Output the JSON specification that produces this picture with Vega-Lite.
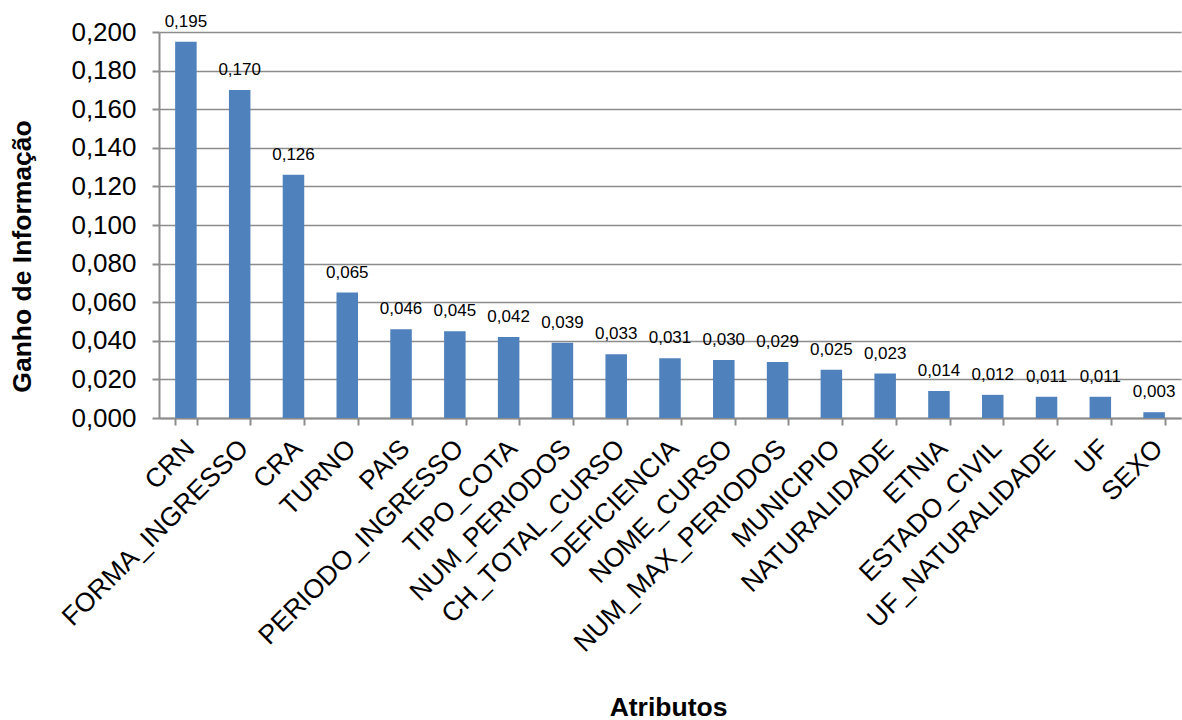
{
  "$schema": "https://vega.github.io/schema/vega-lite/v6.json",
  "width": 1022,
  "height": 386,
  "autosize": {"type": "none"},
  "padding": {"left": 159, "top": 32, "right": 1, "bottom": 302},
  "background": "white",
  "config": {
    "view": {"stroke": null},
    "font": "Liberation Sans",
    "locale": {"number": {"decimal": ",", "thousands": ".", "grouping": [3], "currency": ["R$", ""]}}
  },
  "data": {
    "values": [
      {"atributo": "CRN", "ganho": 0.195},
      {"atributo": "FORMA_INGRESSO", "ganho": 0.170},
      {"atributo": "CRA", "ganho": 0.126},
      {"atributo": "TURNO", "ganho": 0.065},
      {"atributo": "PAIS", "ganho": 0.046},
      {"atributo": "PERIODO_INGRESSO", "ganho": 0.045},
      {"atributo": "TIPO_COTA", "ganho": 0.042},
      {"atributo": "NUM_PERIODOS", "ganho": 0.039},
      {"atributo": "CH_TOTAL_CURSO", "ganho": 0.033},
      {"atributo": "DEFICIENCIA", "ganho": 0.031},
      {"atributo": "NOME_CURSO", "ganho": 0.030},
      {"atributo": "NUM_MAX_PERIODOS", "ganho": 0.029},
      {"atributo": "MUNICIPIO", "ganho": 0.025},
      {"atributo": "NATURALIDADE", "ganho": 0.023},
      {"atributo": "ETNIA", "ganho": 0.014},
      {"atributo": "ESTADO_CIVIL", "ganho": 0.012},
      {"atributo": "UF_NATURALIDADE", "ganho": 0.011},
      {"atributo": "UF", "ganho": 0.011},
      {"atributo": "SEXO", "ganho": 0.003}
    ]
  },
  "encoding": {
    "x": {
      "field": "atributo",
      "type": "nominal",
      "sort": null,
      "scale": {"paddingInner": 0.6, "paddingOuter": 0.3},
      "axis": {
        "title": "Atributos",
        "titleFont": "Liberation Sans",
        "titleFontSize": 26.5,
        "titleFontWeight": "bold",
        "titleColor": "black",
        "titleX": 509,
        "titleY": 289,
        "titleBaseline": "middle",
        "titleAlign": "center",
        "labelAngle": -45,
        "labelAlign": "right",
        "labelBaseline": "middle",
        "labelOffset": 4,
        "labelPadding": 19,
        "labelFontSize": 26.5,
        "labelColor": "black",
        "labelFont": "Liberation Sans",
        "labelOverlap": false,
        "labelLimit": 0,
        "tickBand": "extent",
        "tickSize": 7,
        "tickColor": "#8c8c8c",
        "tickWidth": 2,
        "domainColor": "#8c8c8c",
        "domainWidth": 2,
        "grid": false
      }
    },
    "y": {
      "field": "ganho",
      "type": "quantitative",
      "scale": {"domain": [0, 0.2], "nice": false},
      "axis": {
        "title": "Ganho de Informação",
        "titleFont": "Liberation Sans",
        "titleFontSize": 26.5,
        "titleFontWeight": "bold",
        "titleColor": "black",
        "titleX": -137,
        "titleY": 224,
        "titleAngle": -90,
        "titleAlign": "center",
        "titleBaseline": "middle",
        "values": [0, 0.02, 0.04, 0.06, 0.08, 0.1, 0.12, 0.14, 0.16, 0.18, 0.2],
        "format": ".3f",
        "labelFontSize": 26,
        "labelColor": "black",
        "labelFont": "Liberation Sans",
        "labelPadding": 16,
        "labelBaseline": "middle",
        "tickSize": 7,
        "tickColor": "#8c8c8c",
        "tickWidth": 2,
        "domainColor": "#8c8c8c",
        "domainWidth": 2,
        "grid": true,
        "gridColor": "#8c8c8c",
        "gridWidth": 1.5
      }
    }
  },
  "layer": [
    {"mark": {"type": "bar", "color": "#4F81BD"}},
    {
      "mark": {"type": "text", "baseline": "alphabetic", "dy": -15, "fontSize": 17, "font": "Liberation Sans", "color": "black"},
      "encoding": {"text": {"field": "ganho", "type": "quantitative", "format": ".3f"}}
    }
  ]
}
